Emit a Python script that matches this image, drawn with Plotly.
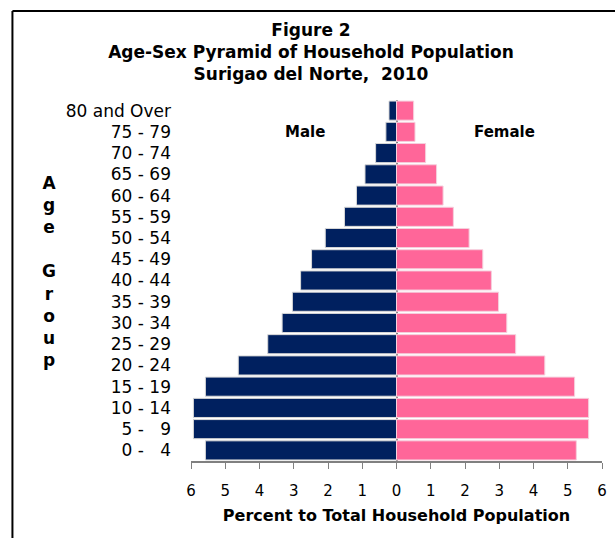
import plotly.graph_objects as go

age_groups = ["0 -   4", "5 -   9", "10 - 14", "15 - 19", "20 - 24", "25 - 29", "30 - 34",
              "35 - 39", "40 - 44", "45 - 49", "50 - 54", "55 - 59", "60 - 64",
              "65 - 69", "70 - 74", "75 - 79", "80 and Over"]
male_pct = [5.58, 5.93, 5.93, 5.58, 4.62, 3.76, 3.34, 3.04, 2.80, 2.48, 2.08,
            1.52, 1.17, 0.92, 0.61, 0.31, 0.22]
female_pct = [5.25, 5.61, 5.61, 5.20, 4.33, 3.48, 3.22, 2.98, 2.77, 2.52, 2.12,
              1.66, 1.36, 1.17, 0.85, 0.54, 0.50]
tick_vals = [-6, -5, -4, -3, -2, -1, 0, 1, 2, 3, 4, 5, 6]
tick_text = ["6", "5", "4", "3", "2", "1", "0", "1", "2", "3", "4", "5", "6"]

FONT = "DejaVu Sans, Verdana, sans-serif"

fig = go.Figure()
fig.add_trace(go.Bar(
    y=age_groups, x=[-v for v in male_pct], orientation="h", name="Male",
    marker=dict(color="#00205F", line=dict(color="#D9D9D9", width=1)),
    hoverinfo="skip"))
fig.add_trace(go.Bar(
    y=age_groups, x=female_pct, orientation="h", name="Female",
    marker=dict(color="#FF6699", line=dict(color="#F5D0DD", width=1)),
    hoverinfo="skip"))

fig.update_layout(
    width=615, height=538,
    margin=dict(l=191, r=13, t=100, b=77),
    barmode="overlay", bargap=0.1,
    showlegend=False,
    paper_bgcolor="white", plot_bgcolor="white",
    font=dict(family=FONT, color="black"),
    title=dict(
        text="<b>Figure 2<br>Age-Sex Pyramid of Household Population<br>Surigao del Norte,  2010</b>",
        x=311 / 615, xanchor="center", xref="container",
        y=0.933, yanchor="top", yref="container",
        font=dict(size=17, family=FONT, color="black")),
)

fig.update_xaxes(
    range=[-6, 6], tickvals=tick_vals, ticktext=tick_text, automargin=False,
    showgrid=False, zeroline=True, zerolinecolor="#808080", zerolinewidth=2,
    showline=True, linecolor="#808080", linewidth=2,
    ticks="outside", ticklen=6, tickcolor="#808080", tickwidth=1,
    ticklabelstandoff=9,
    tickfont=dict(size=15, family=FONT, color="black"),
    title=dict(text="<b>Percent to Total Household Population</b>",
               font=dict(size=16, family=FONT, color="black"), standoff=11),
)
fig.update_yaxes(
    showgrid=False, showline=False, ticks="", automargin=False,
    ticklabelstandoff=19,
    tickfont=dict(size=17, family=FONT, color="black"),
)

fig.add_annotation(text="<b>Male</b>", x=-2.67, y=15, xref="x", yref="y",
                   showarrow=False, font=dict(size=15, family=FONT))
fig.add_annotation(text="<b>Female</b>", x=3.16, y=15, xref="x", yref="y",
                   showarrow=False, font=dict(size=15, family=FONT))
fig.add_annotation(text="<b>A<br>g<br>e<br> <br>G<br>r<br>o<br>u<br>p</b>",
                   x=(40 - 191) / 412, y=(461 - 271) / 361, xref="paper", yref="paper",
                   showarrow=False, align="center",
                   font=dict(size=17, family=FONT))

# frame around the chart (left and top edges visible)
fl = (12 - 191) / 412
ft = (461 - 11) / 361
fig.add_shape(type="line", xref="paper", yref="paper", x0=fl, x1=fl, y0=ft, y1=-0.3,
              line=dict(color="black", width=2))
fig.add_shape(type="line", xref="paper", yref="paper", x0=fl, x1=1.1, y0=ft, y1=ft,
              line=dict(color="black", width=2))

fig.write_html("out.html", config={"displayModeBar": False},
               post_script="document.body.style.margin='0';")
